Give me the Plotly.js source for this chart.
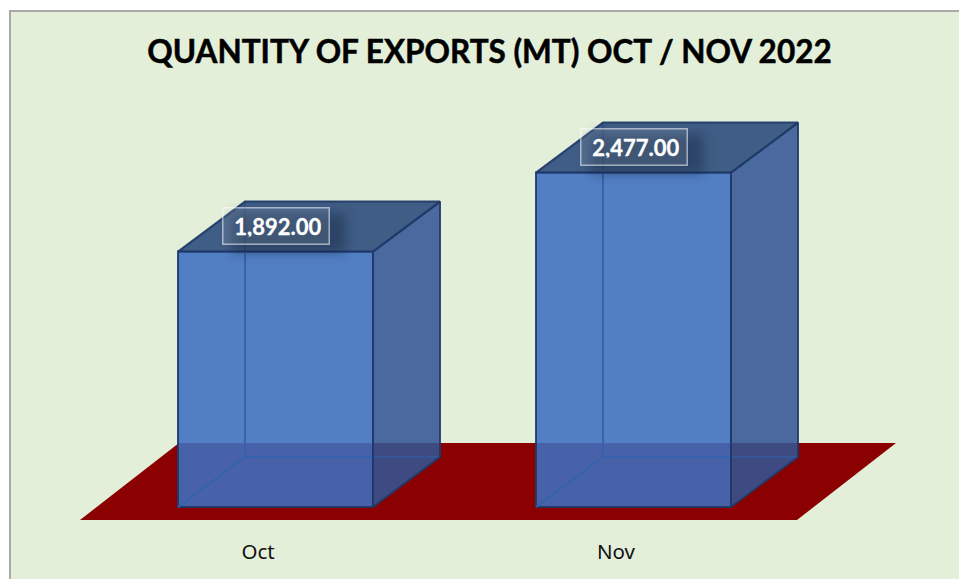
<!DOCTYPE html>
<html>
<head>
<meta charset="utf-8">
<script src="https://cdn.plot.ly/plotly-3.0.1.min.js"></script>
<style>
html,body{margin:0;padding:0;background:#fff;overflow:hidden;width:959px;height:579px}
#chart{position:absolute;left:9px;top:10px;width:948px;height:567px;border-left:2px solid #a9a9a9;border-top:2px solid #a9a9a9}
.layer-above .shapelayer path{filter:blur(6px)}
.gtitle{stroke:#000;stroke-width:0.5px}
.annotation-text{stroke:#fff;stroke-width:0.3px}
</style>
</head>
<body>
<div id="chart"></div>
<script>
// Data
var categories = ['Oct', 'Nov'];
var quantities = [1892, 2477];
var labels = ['1,892.00', '2,477.00'];
var titleText = 'QUANTITY OF EXPORTS (MT) OCT / NOV 2022';

// Scene geometry in axis units (1 x unit = 358 px, 1 y unit = 0.135 px)
var pxX = 358, pxY = 0.135;
var barW = 195 / pxX, depthX = 67 / pxX, depthY = 50 / pxY;
var floorBottom = -13 / pxY, floorTop = 64 / pxY;
var floorX0 = (80 - 275.5) / pxX, floorX1 = (797 - 275.5) / pxX, floorSkew = 99 / pxX;
var tickShift = -17.5 / pxX;

var outline = 'rgba(30,56,104,0.9)';
var traces = [];
traces.push({
  type: 'bar', x: categories.map(function (_, i) { return i; }), y: quantities,
  width: barW, hoverinfo: 'skip',
  marker: { color: 'rgba(62,112,192,0.88)', line: { color: outline, width: 2 } }
});
function poly(xs, ys, fill, line, w) {
  traces.push({
    type: 'scatter', mode: 'lines', x: xs, y: ys, hoverinfo: 'skip',
    fill: fill ? 'toself' : 'none', fillcolor: fill || undefined,
    line: { color: line, width: w }
  });
}
quantities.forEach(function (v, i) {
  var l = i - barW / 2, r = i + barW / 2;
  // hidden edges seen through the box
  poly([l + depthX, l + depthX, r + depthX, null, l, l + depthX],
       [v + depthY, depthY, depthY, null, 0, depthY], null, 'rgba(52,98,172,0.95)', 2);
  // side face
  poly([r, r + depthX, r + depthX, r, r], [0, depthY, v + depthY, v, 0],
       'rgba(50,86,150,0.87)', outline, 2);
  // top face
  poly([l, r, r + depthX, l + depthX, l], [v, v, v + depthY, v + depthY, v],
       'rgba(50,80,126,0.92)', outline, 2);
});

var shapes = [{
  type: 'path', layer: 'below', xref: 'x', yref: 'y',
  path: 'M' + floorX0 + ',' + floorBottom + 'L' + floorX1 + ',' + floorBottom +
        'L' + (floorX1 + floorSkew) + ',' + floorTop + 'L' + (floorX0 + floorSkew) + ',' + floorTop + 'Z',
  fillcolor: '#8b0000', line: { width: 0 }
}];
var annotations = [];
quantities.forEach(function (v, i) {
  shapes.push({
    type: 'rect', layer: 'above', xref: 'x', yref: 'y',
    x0: i - 44 / pxX, x1: i + 70 / pxX, y0: v + -1 / pxY, y1: v + 38 / pxY,
    fillcolor: 'rgba(15,30,60,0.42)', line: { width: 0 }
  });
  annotations.push({
    x: i, y: v, xref: 'x', yref: 'y', yshift: 26, showarrow: false,
    text: labels[i], width: 91, height: 21, align: 'right',
    font: { family: 'Lato, sans-serif', size: 22, color: '#fff', weight: 700 },
    bgcolor: 'rgba(255,255,255,0.10)', bordercolor: 'rgba(255,255,255,0.55)', borderwidth: 1.5, borderpad: 7
  });
});

var layout = {
  width: 948, height: 567,
  margin: { l: 0, r: 0, t: 78, b: 49, pad: 0 },
  paper_bgcolor: '#e3efd9', plot_bgcolor: 'rgba(0,0,0,0)',
  showlegend: false,
  title: {
    text: '<b>' + titleText + '</b>', x: 478.5 / 948, xanchor: 'center', y: 1 - 40 / 567, yanchor: 'middle',
    font: { family: 'Lato, sans-serif', size: 31.5, color: '#000' }
  },
  xaxis: {
    range: [(11 - 275.5) / pxX, (959 - 275.5) / pxX], showgrid: false, zeroline: false, showline: false,
    tickmode: 'array', tickvals: categories.map(function (_, i) { return i + tickShift; }), ticktext: categories,
    ticks: 'outside', ticklen: 3, tickcolor: 'rgba(0,0,0,0)',
    tickfont: { family: 'Noto Sans, sans-serif', size: 20.5, color: '#111' }
  },
  yaxis: {
    range: [-23 / pxY, 417 / pxY], visible: false, showgrid: false, zeroline: false
  },
  shapes: shapes,
  annotations: annotations
};
Plotly.newPlot('chart', traces, layout, { displayModeBar: false, staticPlot: true });
</script>
</body>
</html>
